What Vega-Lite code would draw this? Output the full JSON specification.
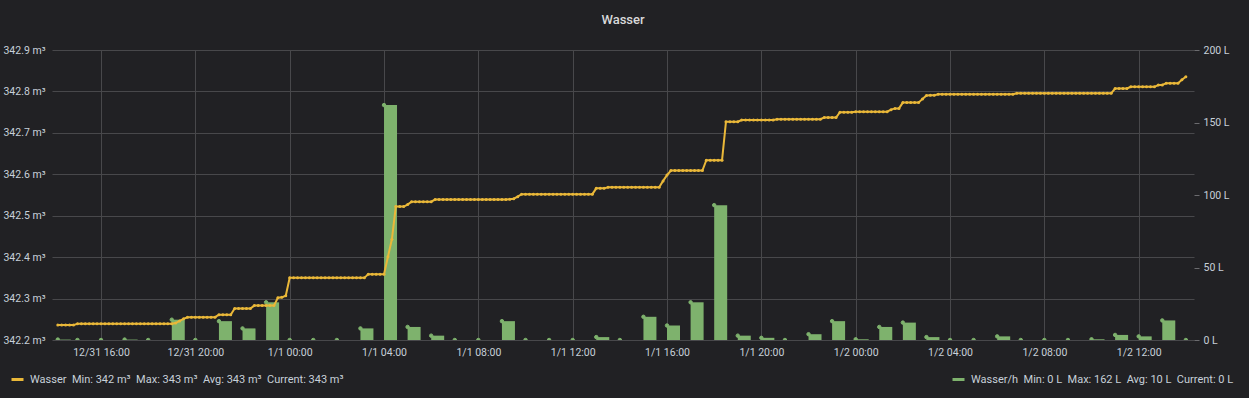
{
"$schema":"https://vega.github.io/schema/vega-lite/v6.json",
"width":1142,"height":290,
"autosize":{"type":"none"},
"padding":{"left":52,"top":50,"right":55,"bottom":58},
"background":"#212124",
"title":{"text":"Wasser","color":"#d8d9da","font":"Roboto","fontSize":13,"fontWeight":500,"offset":18,"anchor":"middle"},
"config":{"view":{"stroke":null},"font":"Roboto",
 "axis":{"labelFont":"Roboto","labelColor":"#c7d0d9","labelFontSize":10.5,"domain":false,"title":null,"gridColor":"#48484b","gridWidth":1}},
"datasets":{
"rate":[
{"t":"2019-12-31T14:10:00Z","h":0.3},{"t":"2019-12-31T15:00:00Z","h":0},{"t":"2019-12-31T16:00:00Z","h":0},{"t":"2019-12-31T17:00:00Z","h":0.3},{"t":"2019-12-31T18:00:00Z","h":0},{"t":"2019-12-31T19:00:00Z","h":14},{"t":"2019-12-31T20:00:00Z","h":0},{"t":"2019-12-31T21:00:00Z","h":13},{"t":"2019-12-31T22:00:00Z","h":8},{"t":"2019-12-31T23:00:00Z","h":26},
{"t":"2020-01-01T00:00:00Z","h":0},{"t":"2020-01-01T01:00:00Z","h":0},{"t":"2020-01-01T02:00:00Z","h":0},{"t":"2020-01-01T03:00:00Z","h":8},{"t":"2020-01-01T04:00:00Z","h":162},{"t":"2020-01-01T05:00:00Z","h":9},{"t":"2020-01-01T06:00:00Z","h":3},{"t":"2020-01-01T07:00:00Z","h":0},{"t":"2020-01-01T08:00:00Z","h":0},{"t":"2020-01-01T09:00:00Z","h":13},{"t":"2020-01-01T10:00:00Z","h":0},{"t":"2020-01-01T11:00:00Z","h":0},{"t":"2020-01-01T12:00:00Z","h":0},{"t":"2020-01-01T13:00:00Z","h":2},{"t":"2020-01-01T14:00:00Z","h":0},{"t":"2020-01-01T15:00:00Z","h":16},{"t":"2020-01-01T16:00:00Z","h":10},{"t":"2020-01-01T17:00:00Z","h":26},{"t":"2020-01-01T18:00:00Z","h":93},{"t":"2020-01-01T19:00:00Z","h":3},{"t":"2020-01-01T20:00:00Z","h":1.5},{"t":"2020-01-01T21:00:00Z","h":0},{"t":"2020-01-01T22:00:00Z","h":4},{"t":"2020-01-01T23:00:00Z","h":13},
{"t":"2020-01-02T00:00:00Z","h":0.5},{"t":"2020-01-02T01:00:00Z","h":9},{"t":"2020-01-02T02:00:00Z","h":12},{"t":"2020-01-02T03:00:00Z","h":2},{"t":"2020-01-02T04:00:00Z","h":0},{"t":"2020-01-02T05:00:00Z","h":0},{"t":"2020-01-02T06:00:00Z","h":2.5},{"t":"2020-01-02T07:00:00Z","h":0},{"t":"2020-01-02T08:00:00Z","h":0},{"t":"2020-01-02T09:00:00Z","h":0},{"t":"2020-01-02T10:00:00Z","h":0.5},{"t":"2020-01-02T11:00:00Z","h":3.5},{"t":"2020-01-02T12:00:00Z","h":2.5},{"t":"2020-01-02T13:00:00Z","h":13.5},{"t":"2020-01-02T14:00:00Z","h":0}
],
"wasser":[
{"t":"2019-12-31T14:10:00Z","w":342.236},{"t":"2019-12-31T14:20:00Z","w":342.236},{"t":"2019-12-31T14:30:00Z","w":342.236},{"t":"2019-12-31T14:40:00Z","w":342.236},{"t":"2019-12-31T14:50:00Z","w":342.236},
{"t":"2019-12-31T15:00:00Z","w":342.239},{"t":"2019-12-31T15:10:00Z","w":342.239},{"t":"2019-12-31T15:20:00Z","w":342.239},{"t":"2019-12-31T15:30:00Z","w":342.239},{"t":"2019-12-31T15:40:00Z","w":342.239},{"t":"2019-12-31T15:50:00Z","w":342.239},
{"t":"2019-12-31T16:00:00Z","w":342.239},{"t":"2019-12-31T16:10:00Z","w":342.239},{"t":"2019-12-31T16:20:00Z","w":342.239},{"t":"2019-12-31T16:30:00Z","w":342.239},{"t":"2019-12-31T16:40:00Z","w":342.239},{"t":"2019-12-31T16:50:00Z","w":342.239},
{"t":"2019-12-31T17:00:00Z","w":342.239},{"t":"2019-12-31T17:10:00Z","w":342.239},{"t":"2019-12-31T17:20:00Z","w":342.239},{"t":"2019-12-31T17:30:00Z","w":342.239},{"t":"2019-12-31T17:40:00Z","w":342.239},{"t":"2019-12-31T17:50:00Z","w":342.239},
{"t":"2019-12-31T18:00:00Z","w":342.239},{"t":"2019-12-31T18:10:00Z","w":342.239},{"t":"2019-12-31T18:20:00Z","w":342.239},{"t":"2019-12-31T18:30:00Z","w":342.239},{"t":"2019-12-31T18:40:00Z","w":342.239},{"t":"2019-12-31T18:50:00Z","w":342.239},
{"t":"2019-12-31T19:00:00Z","w":342.239},{"t":"2019-12-31T19:10:00Z","w":342.241},{"t":"2019-12-31T19:20:00Z","w":342.246},{"t":"2019-12-31T19:30:00Z","w":342.251},{"t":"2019-12-31T19:40:00Z","w":342.255},{"t":"2019-12-31T19:50:00Z","w":342.255},
{"t":"2019-12-31T20:00:00Z","w":342.255},{"t":"2019-12-31T20:10:00Z","w":342.255},{"t":"2019-12-31T20:20:00Z","w":342.255},{"t":"2019-12-31T20:30:00Z","w":342.255},{"t":"2019-12-31T20:40:00Z","w":342.255},{"t":"2019-12-31T20:50:00Z","w":342.255},
{"t":"2019-12-31T21:00:00Z","w":342.261},{"t":"2019-12-31T21:10:00Z","w":342.261},{"t":"2019-12-31T21:20:00Z","w":342.261},{"t":"2019-12-31T21:30:00Z","w":342.261},{"t":"2019-12-31T21:40:00Z","w":342.276},{"t":"2019-12-31T21:50:00Z","w":342.276},
{"t":"2019-12-31T22:00:00Z","w":342.276},{"t":"2019-12-31T22:10:00Z","w":342.276},{"t":"2019-12-31T22:20:00Z","w":342.276},{"t":"2019-12-31T22:30:00Z","w":342.283},{"t":"2019-12-31T22:40:00Z","w":342.283},{"t":"2019-12-31T22:50:00Z","w":342.283},
{"t":"2019-12-31T23:00:00Z","w":342.283},{"t":"2019-12-31T23:10:00Z","w":342.283},{"t":"2019-12-31T23:20:00Z","w":342.283},{"t":"2019-12-31T23:30:00Z","w":342.302},{"t":"2019-12-31T23:40:00Z","w":342.303},{"t":"2019-12-31T23:50:00Z","w":342.307},
{"t":"2020-01-01T00:00:00Z","w":342.35},{"t":"2020-01-01T00:10:00Z","w":342.35},{"t":"2020-01-01T00:20:00Z","w":342.35},{"t":"2020-01-01T00:30:00Z","w":342.35},{"t":"2020-01-01T00:40:00Z","w":342.35},{"t":"2020-01-01T00:50:00Z","w":342.35},
{"t":"2020-01-01T01:00:00Z","w":342.35},{"t":"2020-01-01T01:10:00Z","w":342.35},{"t":"2020-01-01T01:20:00Z","w":342.35},{"t":"2020-01-01T01:30:00Z","w":342.35},{"t":"2020-01-01T01:40:00Z","w":342.35},{"t":"2020-01-01T01:50:00Z","w":342.35},
{"t":"2020-01-01T02:00:00Z","w":342.35},{"t":"2020-01-01T02:10:00Z","w":342.35},{"t":"2020-01-01T02:20:00Z","w":342.35},{"t":"2020-01-01T02:30:00Z","w":342.35},{"t":"2020-01-01T02:40:00Z","w":342.35},{"t":"2020-01-01T02:50:00Z","w":342.35},
{"t":"2020-01-01T03:00:00Z","w":342.35},{"t":"2020-01-01T03:10:00Z","w":342.35},{"t":"2020-01-01T03:20:00Z","w":342.359},{"t":"2020-01-01T03:30:00Z","w":342.359},{"t":"2020-01-01T03:40:00Z","w":342.359},{"t":"2020-01-01T03:50:00Z","w":342.359},
{"t":"2020-01-01T04:00:00Z","w":342.359},{"t":"2020-01-01T04:10:00Z","w":342.401},{"t":"2020-01-01T04:20:00Z","w":342.443},{"t":"2020-01-01T04:30:00Z","w":342.522},{"t":"2020-01-01T04:40:00Z","w":342.522},{"t":"2020-01-01T04:50:00Z","w":342.522},
{"t":"2020-01-01T05:00:00Z","w":342.527},{"t":"2020-01-01T05:10:00Z","w":342.534},{"t":"2020-01-01T05:20:00Z","w":342.534},{"t":"2020-01-01T05:30:00Z","w":342.534},{"t":"2020-01-01T05:40:00Z","w":342.534},{"t":"2020-01-01T05:50:00Z","w":342.534},
{"t":"2020-01-01T06:00:00Z","w":342.534},{"t":"2020-01-01T06:10:00Z","w":342.539},{"t":"2020-01-01T06:20:00Z","w":342.539},{"t":"2020-01-01T06:30:00Z","w":342.539},{"t":"2020-01-01T06:40:00Z","w":342.539},{"t":"2020-01-01T06:50:00Z","w":342.539},
{"t":"2020-01-01T07:00:00Z","w":342.539},{"t":"2020-01-01T07:10:00Z","w":342.539},{"t":"2020-01-01T07:20:00Z","w":342.539},{"t":"2020-01-01T07:30:00Z","w":342.539},{"t":"2020-01-01T07:40:00Z","w":342.539},{"t":"2020-01-01T07:50:00Z","w":342.539},
{"t":"2020-01-01T08:00:00Z","w":342.539},{"t":"2020-01-01T08:10:00Z","w":342.539},{"t":"2020-01-01T08:20:00Z","w":342.539},{"t":"2020-01-01T08:30:00Z","w":342.539},{"t":"2020-01-01T08:40:00Z","w":342.539},{"t":"2020-01-01T08:50:00Z","w":342.539},
{"t":"2020-01-01T09:00:00Z","w":342.539},{"t":"2020-01-01T09:10:00Z","w":342.539},{"t":"2020-01-01T09:20:00Z","w":342.54},{"t":"2020-01-01T09:30:00Z","w":342.541},{"t":"2020-01-01T09:40:00Z","w":342.546},{"t":"2020-01-01T09:50:00Z","w":342.552},
{"t":"2020-01-01T10:00:00Z","w":342.552},{"t":"2020-01-01T10:10:00Z","w":342.552},{"t":"2020-01-01T10:20:00Z","w":342.552},{"t":"2020-01-01T10:30:00Z","w":342.552},{"t":"2020-01-01T10:40:00Z","w":342.552},{"t":"2020-01-01T10:50:00Z","w":342.552},
{"t":"2020-01-01T11:00:00Z","w":342.552},{"t":"2020-01-01T11:10:00Z","w":342.552},{"t":"2020-01-01T11:20:00Z","w":342.552},{"t":"2020-01-01T11:30:00Z","w":342.552},{"t":"2020-01-01T11:40:00Z","w":342.552},{"t":"2020-01-01T11:50:00Z","w":342.552},
{"t":"2020-01-01T12:00:00Z","w":342.552},{"t":"2020-01-01T12:10:00Z","w":342.552},{"t":"2020-01-01T12:20:00Z","w":342.552},{"t":"2020-01-01T12:30:00Z","w":342.552},{"t":"2020-01-01T12:40:00Z","w":342.552},{"t":"2020-01-01T12:50:00Z","w":342.552},
{"t":"2020-01-01T13:00:00Z","w":342.566},{"t":"2020-01-01T13:10:00Z","w":342.566},{"t":"2020-01-01T13:20:00Z","w":342.566},{"t":"2020-01-01T13:30:00Z","w":342.5685},{"t":"2020-01-01T13:40:00Z","w":342.5685},{"t":"2020-01-01T13:50:00Z","w":342.5685},
{"t":"2020-01-01T14:00:00Z","w":342.5685},{"t":"2020-01-01T14:10:00Z","w":342.5685},{"t":"2020-01-01T14:20:00Z","w":342.5685},{"t":"2020-01-01T14:30:00Z","w":342.5685},{"t":"2020-01-01T14:40:00Z","w":342.5685},{"t":"2020-01-01T14:50:00Z","w":342.5685},
{"t":"2020-01-01T15:00:00Z","w":342.5685},{"t":"2020-01-01T15:10:00Z","w":342.5685},{"t":"2020-01-01T15:20:00Z","w":342.5685},{"t":"2020-01-01T15:30:00Z","w":342.5685},{"t":"2020-01-01T15:40:00Z","w":342.5685},{"t":"2020-01-01T15:50:00Z","w":342.584},
{"t":"2020-01-01T16:00:00Z","w":342.598},{"t":"2020-01-01T16:10:00Z","w":342.609},{"t":"2020-01-01T16:20:00Z","w":342.609},{"t":"2020-01-01T16:30:00Z","w":342.609},{"t":"2020-01-01T16:40:00Z","w":342.609},{"t":"2020-01-01T16:50:00Z","w":342.609},
{"t":"2020-01-01T17:00:00Z","w":342.609},{"t":"2020-01-01T17:10:00Z","w":342.609},{"t":"2020-01-01T17:20:00Z","w":342.609},{"t":"2020-01-01T17:30:00Z","w":342.609},{"t":"2020-01-01T17:40:00Z","w":342.634},{"t":"2020-01-01T17:50:00Z","w":342.634},
{"t":"2020-01-01T18:00:00Z","w":342.634},{"t":"2020-01-01T18:10:00Z","w":342.634},{"t":"2020-01-01T18:20:00Z","w":342.634},{"t":"2020-01-01T18:30:00Z","w":342.727},{"t":"2020-01-01T18:40:00Z","w":342.727},{"t":"2020-01-01T18:50:00Z","w":342.727},
{"t":"2020-01-01T19:00:00Z","w":342.727},{"t":"2020-01-01T19:10:00Z","w":342.731},{"t":"2020-01-01T19:20:00Z","w":342.731},{"t":"2020-01-01T19:30:00Z","w":342.731},{"t":"2020-01-01T19:40:00Z","w":342.731},{"t":"2020-01-01T19:50:00Z","w":342.731},
{"t":"2020-01-01T20:00:00Z","w":342.731},{"t":"2020-01-01T20:10:00Z","w":342.731},{"t":"2020-01-01T20:20:00Z","w":342.731},{"t":"2020-01-01T20:30:00Z","w":342.731},{"t":"2020-01-01T20:40:00Z","w":342.733},{"t":"2020-01-01T20:50:00Z","w":342.733},
{"t":"2020-01-01T21:00:00Z","w":342.733},{"t":"2020-01-01T21:10:00Z","w":342.733},{"t":"2020-01-01T21:20:00Z","w":342.733},{"t":"2020-01-01T21:30:00Z","w":342.733},{"t":"2020-01-01T21:40:00Z","w":342.733},{"t":"2020-01-01T21:50:00Z","w":342.733},
{"t":"2020-01-01T22:00:00Z","w":342.733},{"t":"2020-01-01T22:10:00Z","w":342.733},{"t":"2020-01-01T22:20:00Z","w":342.733},{"t":"2020-01-01T22:30:00Z","w":342.733},{"t":"2020-01-01T22:40:00Z","w":342.737},{"t":"2020-01-01T22:50:00Z","w":342.737},
{"t":"2020-01-01T23:00:00Z","w":342.737},{"t":"2020-01-01T23:10:00Z","w":342.737},{"t":"2020-01-01T23:20:00Z","w":342.75},{"t":"2020-01-01T23:30:00Z","w":342.75},{"t":"2020-01-01T23:40:00Z","w":342.75},{"t":"2020-01-01T23:50:00Z","w":342.75},
{"t":"2020-01-02T00:00:00Z","w":342.751},{"t":"2020-01-02T00:10:00Z","w":342.751},{"t":"2020-01-02T00:20:00Z","w":342.751},{"t":"2020-01-02T00:30:00Z","w":342.751},{"t":"2020-01-02T00:40:00Z","w":342.751},{"t":"2020-01-02T00:50:00Z","w":342.751},
{"t":"2020-01-02T01:00:00Z","w":342.751},{"t":"2020-01-02T01:10:00Z","w":342.751},{"t":"2020-01-02T01:20:00Z","w":342.751},{"t":"2020-01-02T01:30:00Z","w":342.756},{"t":"2020-01-02T01:40:00Z","w":342.759},{"t":"2020-01-02T01:50:00Z","w":342.759},
{"t":"2020-01-02T02:00:00Z","w":342.773},{"t":"2020-01-02T02:10:00Z","w":342.773},{"t":"2020-01-02T02:20:00Z","w":342.773},{"t":"2020-01-02T02:30:00Z","w":342.773},{"t":"2020-01-02T02:40:00Z","w":342.773},{"t":"2020-01-02T02:50:00Z","w":342.782},
{"t":"2020-01-02T03:00:00Z","w":342.79},{"t":"2020-01-02T03:10:00Z","w":342.791},{"t":"2020-01-02T03:20:00Z","w":342.791},{"t":"2020-01-02T03:30:00Z","w":342.793},{"t":"2020-01-02T03:40:00Z","w":342.793},{"t":"2020-01-02T03:50:00Z","w":342.793},
{"t":"2020-01-02T04:00:00Z","w":342.793},{"t":"2020-01-02T04:10:00Z","w":342.793},{"t":"2020-01-02T04:20:00Z","w":342.793},{"t":"2020-01-02T04:30:00Z","w":342.793},{"t":"2020-01-02T04:40:00Z","w":342.793},{"t":"2020-01-02T04:50:00Z","w":342.793},
{"t":"2020-01-02T05:00:00Z","w":342.793},{"t":"2020-01-02T05:10:00Z","w":342.793},{"t":"2020-01-02T05:20:00Z","w":342.793},{"t":"2020-01-02T05:30:00Z","w":342.793},{"t":"2020-01-02T05:40:00Z","w":342.793},{"t":"2020-01-02T05:50:00Z","w":342.793},
{"t":"2020-01-02T06:00:00Z","w":342.793},{"t":"2020-01-02T06:10:00Z","w":342.793},{"t":"2020-01-02T06:20:00Z","w":342.793},{"t":"2020-01-02T06:30:00Z","w":342.793},{"t":"2020-01-02T06:40:00Z","w":342.793},{"t":"2020-01-02T06:50:00Z","w":342.7955},
{"t":"2020-01-02T07:00:00Z","w":342.7955},{"t":"2020-01-02T07:10:00Z","w":342.7955},{"t":"2020-01-02T07:20:00Z","w":342.7955},{"t":"2020-01-02T07:30:00Z","w":342.7955},{"t":"2020-01-02T07:40:00Z","w":342.7955},{"t":"2020-01-02T07:50:00Z","w":342.7955},
{"t":"2020-01-02T08:00:00Z","w":342.7955},{"t":"2020-01-02T08:10:00Z","w":342.7955},{"t":"2020-01-02T08:20:00Z","w":342.7955},{"t":"2020-01-02T08:30:00Z","w":342.7955},{"t":"2020-01-02T08:40:00Z","w":342.7955},{"t":"2020-01-02T08:50:00Z","w":342.7955},
{"t":"2020-01-02T09:00:00Z","w":342.7955},{"t":"2020-01-02T09:10:00Z","w":342.7955},{"t":"2020-01-02T09:20:00Z","w":342.7955},{"t":"2020-01-02T09:30:00Z","w":342.7955},{"t":"2020-01-02T09:40:00Z","w":342.7955},{"t":"2020-01-02T09:50:00Z","w":342.7955},
{"t":"2020-01-02T10:00:00Z","w":342.7955},{"t":"2020-01-02T10:10:00Z","w":342.7955},{"t":"2020-01-02T10:20:00Z","w":342.7955},{"t":"2020-01-02T10:30:00Z","w":342.7955},{"t":"2020-01-02T10:40:00Z","w":342.7955},{"t":"2020-01-02T10:50:00Z","w":342.7955},
{"t":"2020-01-02T11:00:00Z","w":342.807},{"t":"2020-01-02T11:10:00Z","w":342.807},{"t":"2020-01-02T11:20:00Z","w":342.807},{"t":"2020-01-02T11:30:00Z","w":342.807},{"t":"2020-01-02T11:40:00Z","w":342.811},{"t":"2020-01-02T11:50:00Z","w":342.811},
{"t":"2020-01-02T12:00:00Z","w":342.811},{"t":"2020-01-02T12:10:00Z","w":342.811},{"t":"2020-01-02T12:20:00Z","w":342.811},{"t":"2020-01-02T12:30:00Z","w":342.811},{"t":"2020-01-02T12:40:00Z","w":342.811},{"t":"2020-01-02T12:50:00Z","w":342.8155},
{"t":"2020-01-02T13:00:00Z","w":342.8155},{"t":"2020-01-02T13:10:00Z","w":342.82},{"t":"2020-01-02T13:20:00Z","w":342.82},{"t":"2020-01-02T13:30:00Z","w":342.82},{"t":"2020-01-02T13:40:00Z","w":342.82},{"t":"2020-01-02T13:50:00Z","w":342.828},
{"t":"2020-01-02T14:00:00Z","w":342.8355}
]},
"encoding":{"x":{"field":"t","type":"temporal",
  "scale":{"type":"utc","domain":[1577801280000,1577974080000]},
  "axis":{"format":"%-m/%-d %H:%M","values":[1577808000000,1577822400000,1577836800000,1577851200000,1577865600000,1577880000000,1577894400000,1577908800000,1577923200000,1577937600000,1577952000000,1577966400000],"grid":true,"ticks":false,"tickSize":0,"labelPadding":7,"labelOverlap":false,"labelFlush":false}}},
"layer":[
 {"data":{"name":"rate"},"layer":[
   {"mark":{"type":"bar","size":13,"xOffset":6.5,"color":"#7EB26D","clip":true},
    "encoding":{"y":{"field":"h","type":"quantitative","scale":{"domain":[0,200],"nice":false},
      "axis":{"orient":"right","values":[0,50,100,150,200],"labelExpr":"datum.value + ' L'","grid":false,"ticks":true,"tickSize":5,"tickColor":"#6b6b6e","labelPadding":4}}}},
   {"mark":{"type":"point","filled":true,"size":12,"color":"#7EB26D","opacity":1,"strokeWidth":1,"clip":true},
    "encoding":{"y":{"field":"h","type":"quantitative"},
      "stroke":{"datum":"Wasser/h","scale":{"range":["#7EB26D"]},
        "legend":{"orient":"none","legendX":899,"legendY":322,"title":null,"symbolType":"stroke","symbolSize":144,"symbolStrokeWidth":3,"symbolStrokeColor":"#7EB26D","labelFont":"Roboto","labelFontSize":11,"labelColor":"#c7d0d9","labelLimit":0,"labelOffset":5,"padding":0,
          "labelExpr":"'Wasser/h\u00a0\u00a0Min: 0 L\u00a0\u00a0Max: 162 L\u00a0\u00a0Avg: 10 L\u00a0\u00a0Current: 0 L'"}}}}
 ]},
 {"data":{"name":"wasser"},"layer":[
   {"mark":{"type":"line","strokeWidth":2,"clip":true},
    "encoding":{"y":{"field":"w","type":"quantitative","scale":{"domain":[342.2,342.9],"nice":false,"zero":false},
      "axis":{"orient":"left","values":[342.2,342.3,342.4,342.5,342.6,342.7,342.8,342.9],"labelExpr":"format(datum.value,'.1f') + ' m³'","grid":true,"ticks":false,"tickSize":0,"labelPadding":7}},
      "stroke":{"datum":"Wasser","scale":{"range":["#EAB839"]},
        "legend":{"orient":"none","legendX":-42,"legendY":322,"title":null,"symbolType":"stroke","symbolSize":144,"symbolStrokeWidth":3,"labelFont":"Roboto","labelFontSize":11,"labelColor":"#c7d0d9","labelLimit":0,"labelOffset":5,"padding":0,
          "labelExpr":"'Wasser\u00a0\u00a0Min: 342 m³\u00a0\u00a0Max: 343 m³\u00a0\u00a0Avg: 343 m³\u00a0\u00a0Current: 343 m³'"}}}},
   {"mark":{"type":"point","filled":true,"size":9,"color":"#EAB839","opacity":1,"clip":true},
    "encoding":{"y":{"field":"w","type":"quantitative"}}}
 ]}
],
"resolve":{"scale":{"y":"independent","stroke":"independent"},"legend":{"stroke":"independent"}}
}
